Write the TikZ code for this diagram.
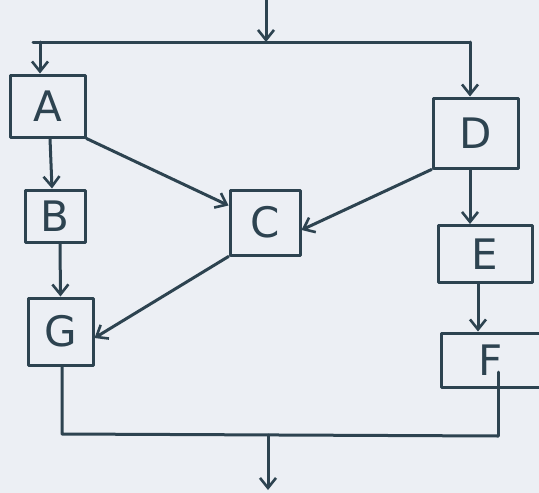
\documentclass[tikz,border=0pt]{standalone}
\usepackage{fontspec}
\setmainfont{DejaVu Sans}
\usetikzlibrary{arrows.meta}
\definecolor{paper}{HTML}{ECEFF4}
\definecolor{ink}{HTML}{2D4350}
\tikzset{
  pen/.style={draw=ink, line width=3pt, line cap=round, line join=round},
  box/.style={pen, rectangle, inner sep=0pt, text=ink,
    font=\fontsize{42}{42}\selectfont},
  arr/.style={pen, -{Straight Barb[length=10pt,width=16pt,line width=2.6pt]}},
}
\begin{document}
\begin{tikzpicture}[x=1pt,y=-1pt]
  % page
  \fill[paper] (0,0) rectangle (539,493);
  \useasboundingbox (0,0) rectangle (539,493);
  \clip (0,0) rectangle (539,493);

  % blocks
  \node[box, minimum width=75pt, minimum height=62pt] (A) at (47.5,106) {A};
  \node[box, minimum width=60pt, minimum height=52pt] (B) at (55,216) {B};
  \node[box, minimum width=70pt, minimum height=65pt] (C) at (265,222.5) {C};
  \node[box, minimum width=85pt, minimum height=70pt] (D) at (475.5,133) {D};
  \node[box, minimum width=94pt, minimum height=57pt] (E) at (485,254) {E};
  \node[box, minimum width=100pt, minimum height=54pt] (F) at (491,360) {F};
  \node[box, minimum width=65pt, minimum height=67pt] (G) at (60.5,331.5) {G};

  % entry and fork
  \coordinate (in) at (266,0);
  \coordinate (fork) at (266,42);
  \coordinate (forkL) at (33,42);
  \coordinate (la) at (40,42);
  \coordinate (ra) at (470,42);
  \draw[arr] (in) -- (fork);
  \draw[pen] (forkL) -- (ra);
  \draw[arr] (la) -- (la |- A.north);
  \draw[arr] (ra) -- (ra |- D.north);

  % left chain
  \draw[arr] ([xshift=2.5pt]A.south) -- ([xshift=-3pt]B.north);
  \draw[arr] (A.south east) -- ([yshift=17pt]C.west);
  \draw[arr] ([xshift=5pt]B.south) -- (G.north);
  \draw[arr] (C.south west) -- ([yshift=-6.5pt]G.east);

  % right chain
  \draw[arr] (D.south west) -- ([yshift=-7.5pt]C.east);
  \draw[arr] ([xshift=-5.5pt]D.south) -- ([xshift=-15pt]E.north);
  \draw[arr] ([xshift=-7pt]E.south) -- ([xshift=-13pt]F.north);

  % join and exit
  \coordinate (jl) at (62,434);
  \coordinate (jr) at (498,436);
  \coordinate (fo) at (498,372);
  \coordinate (jm) at (268,435);
  \coordinate (out) at (268,490);
  \draw[pen] ([xshift=1.5pt]G.south) -- (jl) -- (jr);
  \draw[pen] (fo) -- (jr);
  \draw[arr] (jm) -- (out);
\end{tikzpicture}
\end{document}
